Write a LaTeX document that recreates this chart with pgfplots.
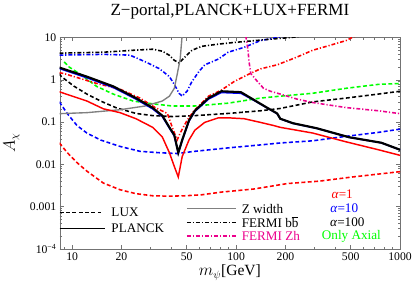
\documentclass[border=0pt]{standalone}
\usepackage{fontspec}
\setmainfont{Liberation Serif}
\usepackage{pgfplots}
\pgfplotsset{compat=1.18}
\definecolor{zgray}{gray}{0.5}
\begin{document}
\begin{tikzpicture}
\begin{axis}[
  at={(0,0)}, anchor=south west,
  xmode=log, ymode=log,
  scale only axis, width=348bp, height=216bp,
  xmin=8.4, xmax=1000, ymin=1e-4, ymax=10,
  xtick={10,20,50,100,200,500,1000},
  xticklabels={10,20,50,100,200,500,1000},
  minor xtick={9,30,40,60,70,80,90,300,400,600,700,800,900},
  ytick={1e-4,1e-3,1e-2,1e-1,1,10},
  yticklabels={10\textsuperscript{−4},0.001,0.01,0.1,1,10},
  minor ytick={2e-4,3e-4,4e-4,5e-4,6e-4,7e-4,8e-4,9e-4,2e-3,3e-3,4e-3,5e-3,6e-3,7e-3,8e-3,9e-3,2e-2,3e-2,4e-2,5e-2,6e-2,7e-2,8e-2,9e-2,0.2,0.3,0.4,0.5,0.6,0.7,0.8,0.9,2,3,4,5,6,7,8,9},
  tick align=inside, major tick length=4bp, minor tick length=2bp,
  axis line style={black!55}, tick style={black!55, line width=0.5bp},
  ticklabel style={font=\fontsize{12}{14}\selectfont},
  /pgf/number format/assume math mode=true,
  title={Z−portal,PLANCK+LUX+FERMI},
  title style={font=\fontsize{17.5}{20}\selectfont, at={(0.5,1)}, anchor=base, yshift=17bp},
  xlabel={$m_\psi$[GeV]},
  xlabel style={font=\fontsize{16}{18}\selectfont, yshift=2bp},
  ylabel={$A_\chi$},
  ylabel style={font=\fontsize{16}{18}\selectfont, yshift=4bp},
  clip=true,
]
% LUX alpha=1 (red dashed)
\addplot[red, line width=1.6bp, dash pattern=on 4bp off 2.5bp] coordinates {
(8.36,0.032) (9.33,0.019) (10.7,0.011) (12.3,0.0069) (15.5,0.0036) (19.6,0.0025) (24.5,0.00202) (31,0.0018) (39.2,0.00176) (48.8,0.0018) (61.7,0.0019) (81.3,0.0022) (128,0.0026) (205,0.0035) (323,0.0040) (509,0.0050) (1000,0.0067)};
% LUX alpha=10 (blue dashed)
\addplot[blue, line width=1.6bp, dash pattern=on 4bp off 2.5bp] coordinates {
(8.36,0.30) (9.33,0.16) (10.7,0.083) (12.3,0.055) (14.9,0.0376) (19.6,0.0265) (25.9,0.0203) (34.1,0.0188) (43.7,0.018) (56,0.0203) (89.5,0.0245) (141,0.0288) (186,0.032) (293,0.036) (469,0.046) (738,0.057) (1000,0.068)};
% LUX alpha=100 (black dashed)
\addplot[black, line width=1.6bp, dash pattern=on 4bp off 2.5bp] coordinates {
(8.36,1.4) (8.6,1.19) (10.3,0.70) (12.3,0.46) (14.9,0.315) (18.6,0.217) (24.5,0.16) (31,0.142) (40.8,0.135) (56,0.142) (89.5,0.16) (141,0.185) (186,0.21) (293,0.3) (469,0.37) (738,0.46) (1000,0.536)};
% Only axial (green dashed)
\addplot[green, line width=1.6bp, dash pattern=on 4bp off 2.5bp] coordinates {
(8.95,2.64) (9.6,2.0) (11.3,1.33) (14.1,0.70) (17.8,0.46) (23.5,0.315) (31,0.27) (40.8,0.24) (56,0.24) (89.5,0.28) (141,0.37) (186,0.41) (293,0.48) (469,0.63) (738,0.78) (1000,0.82)};
% FERMI bb alpha=1 (red dash-dot)
\addplot[red, line width=1.6bp, dash pattern=on 4bp off 2bp on 1.2bp off 2bp] coordinates {
(8.36,1.47) (8.95,1.40) (14.1,0.82) (19.6,0.6) (25.9,0.37) (32.3,0.217) (38.1,0.16) (40.8,0.075) (43.7,0.0376) (45.6,0.055) (50.2,0.109) (55.3,0.185) (67.9,0.41) (81.3,0.57) (97.3,0.91) (118,1.33) (141,1.82) (178,2.26) (235,3.45) (293,5.0) (371,6.5) (469,8.5) (509,10) (540,11)};
% FERMI bb alpha=10 (blue dash-dot)
\addplot[blue, line width=1.6bp, dash pattern=on 4bp off 2bp on 1.2bp off 2bp] coordinates {
(8.36,3.84) (15.5,4.0) (22.5,3.84) (28.1,2.64) (34.1,1.83) (39.2,1.19) (42,0.78) (44.9,0.48) (46.9,0.41) (50.2,0.536) (53.8,0.91) (59.2,1.55) (64.3,2.25) (78,3.1) (89.5,4.5) (112,5.87) (141,8.5) (178,10) (200,11)};
% FERMI bb alpha=100 (black dash-dot)
\addplot[black, line width=1.6bp, dash pattern=on 4bp off 2bp on 1.2bp off 2bp] coordinates {
(8.36,4.27) (15.5,4.5) (23.5,5.0) (31,5.3) (35.5,4.75) (39.2,3.8) (42,2.9) (44.9,2.5) (48.1,3.3) (53.8,5.0) (61.7,6.2) (75.8,6.9) (97.3,7.66) (155,9.0) (213,10) (240,10.5)};
% FERMI Zh (magenta dash-dot)
\addplot[magenta, line width=1.6bp, dash pattern=on 4bp off 2bp on 1.2bp off 2bp] coordinates {
(114,11) (115,10) (118,5.3) (120,2.64) (123,1.4) (135,0.91) (147,0.63) (162,0.536) (186,0.46) (235,0.35) (293,0.29) (469,0.22) (738,0.185) (1000,0.158)};
% Z width (gray)
\addplot[zgray, line width=1.4bp] coordinates {
(8.36,0.158) (12.3,0.167) (19.6,0.196) (28.1,0.241) (35.5,0.315) (39.2,0.41) (42,0.63) (43.7,1.33) (45.6,3.1) (46.5,7.66) (46.9,12)};
% PLANCK alpha=1 (red solid)
\addplot[red, line width=1.5bp] coordinates {
(8.36,0.52) (12.3,0.315) (15.5,0.206) (19.6,0.167) (24.5,0.12) (31,0.075) (35.5,0.0442) (39.2,0.0188) (42,0.0089) (44.4,0.005) (46.9,0.0152) (51.6,0.0376) (56,0.064) (64.3,0.098) (78,0.126) (89.5,0.126) (112,0.12) (141,0.098) (169,0.083) (186,0.075) (293,0.055) (469,0.034) (738,0.0221) (1000,0.0163)};
% PLANCK alpha=10 (blue solid)
\addplot[blue, line width=1.6bp] coordinates {
(8.36,1.85) (12.3,1.12) (17.8,0.66) (24.5,0.35) (31,0.205) (35.5,0.135) (39.2,0.072) (42,0.047) (44.4,0.0185) (46.9,0.036) (51.6,0.105) (56,0.178) (67.9,0.35) (81.3,0.50) (107,0.48) (123,0.36) (155,0.215) (178,0.158) (186,0.119) (222,0.093) (310,0.071) (488,0.0435) (769,0.0322) (1000,0.022)};
% PLANCK alpha=100 (black solid)
\addplot[black, line width=2.2bp] coordinates {
(8.36,1.95) (12.3,1.19) (17.8,0.70) (24.5,0.37) (31,0.217) (35.5,0.142) (39.2,0.075) (42,0.049) (44.4,0.0188) (46.9,0.0376) (51.6,0.109) (56,0.185) (67.9,0.37) (81.3,0.536) (107,0.51) (123,0.37) (155,0.217) (178,0.16) (186,0.12) (222,0.094) (310,0.0715) (488,0.0438) (769,0.0324) (1000,0.0221)};
% legend keys and texts
\draw[black, line width=1.6bp, dash pattern=on 4bp off 2.5bp] (rel axis cs:0,0.171) -- (rel axis cs:0.12,0.171);
\node[anchor=west, font=\fontsize{13.5}{15}\selectfont] at (rel axis cs:0.142,0.171) {LUX};
\draw[black, line width=1.6bp] (rel axis cs:0,0.097) -- (rel axis cs:0.133,0.097);
\node[anchor=west, font=\fontsize{13.5}{15}\selectfont] at (rel axis cs:0.142,0.097) {PLANCK};
\draw[zgray, line width=1.4bp] (rel axis cs:0.374,0.19) -- (rel axis cs:0.517,0.19);
\node[anchor=west, font=\fontsize{13.5}{15}\selectfont] at (rel axis cs:0.525,0.19) {Z width};
\draw[black, line width=1.6bp, dash pattern=on 4bp off 2bp on 1.2bp off 2bp] (rel axis cs:0.374,0.125) -- (rel axis cs:0.517,0.125);
\node[anchor=west, font=\fontsize{13.5}{15}\selectfont] at (rel axis cs:0.525,0.125) {FERMI b\ensuremath{\overline{\hbox{b}}}};
\draw[magenta, line width=1.6bp, dash pattern=on 4bp off 2bp on 1.2bp off 2bp] (rel axis cs:0.374,0.06) -- (rel axis cs:0.517,0.06);
\node[anchor=west, text=magenta, font=\fontsize{13.5}{15}\selectfont] at (rel axis cs:0.525,0.06) {FERMI Zh};
\node[text=red, font=\fontsize{13.5}{15}\selectfont] at (rel axis cs:0.83,0.259) {\textit{α}=1};
\node[text=blue, font=\fontsize{13.5}{15}\selectfont] at (rel axis cs:0.836,0.19) {\textit{α}=10};
\node[text=black, font=\fontsize{13.5}{15}\selectfont] at (rel axis cs:0.845,0.125) {\textit{α}=100};
\node[text=green, font=\fontsize{13.5}{15}\selectfont] at (rel axis cs:0.857,0.06) {Only Axial};
\end{axis}
\useasboundingbox (-55bp,-42bp) rectangle (360bp,251bp);
\end{tikzpicture}
\end{document}
